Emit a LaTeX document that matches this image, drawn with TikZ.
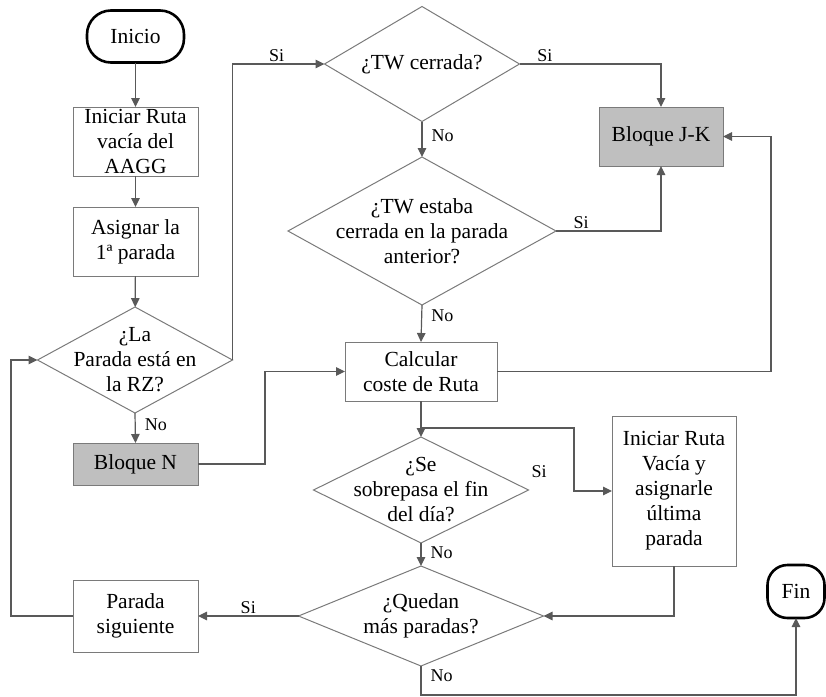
\documentclass[tikz,border=0pt]{standalone}
\usepackage{fontspec}
\setmainfont{Liberation Serif}
\usetikzlibrary{shapes.geometric,arrows.meta}
\newcommand{\mainfs}{\fontsize{21.5}{25}\selectfont}
\newcommand{\lblfs}{\fontsize{18}{20}\selectfont}
\definecolor{lineclr}{HTML}{595959}
\definecolor{edgeclr}{HTML}{7A7A7A}
\definecolor{blockfill}{HTML}{BFBFBF}
\tikzset{
  procbox/.style={draw=edgeclr, line width=1pt, inner sep=0pt, outer sep=0pt,
    align=center, font=\mainfs, minimum width=125pt},
  greybox/.style={procbox, fill=blockfill},
  terminal/.style={draw=black, line width=2.6pt, rounded corners=24pt, inner sep=0pt,
    outer sep=0pt, font=\mainfs},
  decision/.style={diamond, draw=edgeclr, line width=1pt, inner sep=0pt, outer sep=0pt},
  dtext/.style={align=center, font=\mainfs, inner sep=0pt},
  conn/.style={draw=lineclr, line width=1.2pt, -{Triangle[length=9pt,width=8.5pt]}},
  lbl/.style={font=\lblfs, inner sep=2pt},
  lblr/.style={lbl, right, xshift=7pt},
}
\begin{document}
\begin{tikzpicture}[x=1pt,y=-1pt]
\useasboundingbox (0,0) rectangle (826,696);

% left column
\node[terminal, minimum width=97pt, minimum height=52pt] (inicio) at (135.5,36.5) {Inicio};
\node[procbox, minimum height=69pt] (r1) at (135.5,141.5) {Iniciar Ruta\\vacía del\\AAGG};
\node[procbox, minimum height=69pt] (r2) at (135.5,241.5) {Asignar la\\1ª parada};
\node[decision, minimum width=195pt, minimum height=106pt] (d1) at (135,360) {};
\node[dtext] (d1t) at (d1) {¿La\\Parada está en\\la RZ?};
\node[greybox, minimum height=42pt] (bn) at (135.5,464) {Bloque N};
\node[procbox, minimum height=72pt] (ps) at (135.5,616) {Parada\\siguiente};

% middle column
\node[decision, minimum width=195pt, minimum height=115pt] (d2) at (422,64) {};
\node[dtext] (d2t) at (d2) {¿TW cerrada?};
\node[decision, minimum width=268pt, minimum height=148pt] (d3) at (422,231) {};
\node[dtext] (d3t) at (d3) {¿TW estaba\\cerrada en la parada\\anterior?};
\node[procbox, minimum width=152pt, minimum height=59pt] (calc) at (421,371.5) {Calcular\\coste de Ruta};
\node[decision, minimum width=215pt, minimum height=106pt] (d4) at (421,490) {};
\node[dtext] (d4t) at (d4) {¿Se\\sobrepasa el fin\\del día?};
\node[decision, minimum width=245pt, minimum height=100pt] (d5) at (421,616) {};
\node[dtext] (d5t) at (d5) {¿Quedan\\más paradas?};

% right column
\node[greybox, minimum width=124pt, minimum height=59pt] (jk) at (661,136.5) {Bloque J-K};
\node[procbox, minimum width=124pt, minimum height=150pt] (rv) at (674,491) {Iniciar Ruta\\Vacía y\\asignarle\\última\\parada};
\node[terminal, rounded corners=20pt, minimum width=57pt, minimum height=53pt] (fin) at (796,591.5) {Fin};

% routing points
\coordinate (xleft) at (11,0);
\coordinate (xbn) at (265,0);
\coordinate (xcalc) at (771,0);
\coordinate (split) at (421,428);
\coordinate (xsplit) at (574,0);
\coordinate (ybottom) at (0,695);

% connectors
\draw[conn] (inicio) -- (r1);
\draw[conn] (r1) -- (r2);
\draw[conn] (r2) -- (d1);
\draw[conn] (d1.south) -- node[lblr, pos=0.4] {No} (bn.north);
\draw[conn] (d1.east) |- node[lbl, above, pos=0.74] {Si} (d2.west);
\draw[conn] (d2.east) -| node[lbl, above, pos=0.09] {Si} (jk.north);
\draw[conn] (d2.south) -- node[lblr, pos=0.4] {No} (d3.north);
\draw[conn] (d3.east) -| node[lbl, above, pos=0.12] {Si} (jk.south);
\draw[conn] (d3.south) -- node[lblr, pos=0.3] {No} (calc.north);
\draw[conn] (bn.east) -| (xbn |- calc.west) -- (calc.west);
\draw[conn] (calc.east) -| (xcalc |- jk.east) -- (jk.east);
\draw[conn] (calc.south) -- (d4.north);
\draw[conn] (split) -| (xsplit |- rv.west) -- (rv.west);
\node[lbl] (si4) at (539,472) {Si};
\draw[conn] (d4.south) -- node[lblr, pos=0.4] {No} (d5.north);
\draw[conn] (rv.south) |- (d5.east);
\draw[conn] (d5.west) -- node[lbl, above] {Si} (ps.east);
\draw[conn] (ps.west) -| (xleft |- d1.west) -- (d1.west);
\draw[conn] (d5.south) -- node[lblr, pos=0.35] {No} (d5.south |- ybottom) -| (fin.south);
\end{tikzpicture}
\end{document}
